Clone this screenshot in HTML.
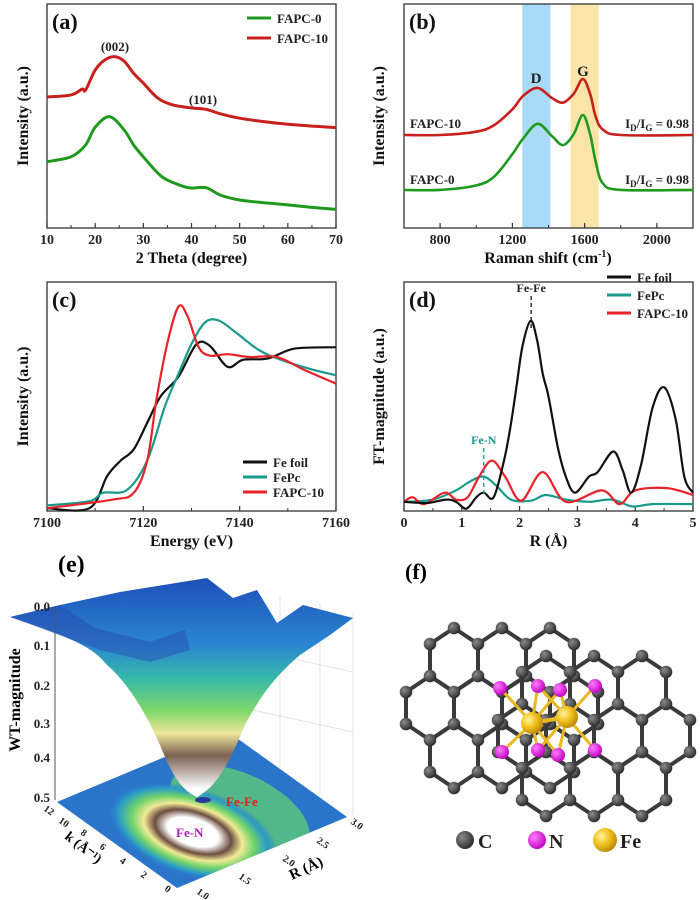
<!DOCTYPE html>
<html><head><meta charset="utf-8"><style>
html,body{margin:0;padding:0;background:#fff;}
svg{display:block;font-family:"Liberation Serif",serif;font-weight:bold;}
</style></head><body>
<svg id="fig" width="700" height="900" viewBox="0 0 700 900" xmlns="http://www.w3.org/2000/svg">
<defs>
<linearGradient id="surfG" x1="0" y1="578" x2="0" y2="800" gradientUnits="userSpaceOnUse">
<stop offset="0" stop-color="#1d4fb8"/><stop offset="0.3" stop-color="#2a86d2"/><stop offset="0.45" stop-color="#35b8a8"/><stop offset="0.6" stop-color="#7fd86a"/><stop offset="0.7" stop-color="#eee79a"/><stop offset="0.8" stop-color="#7c6152"/><stop offset="0.95" stop-color="#ffffff"/>
</linearGradient>
<radialGradient id="floorG" cx="0.5" cy="0.5" r="0.5">
<stop offset="0" stop-color="#fff"/><stop offset="0.3" stop-color="#fff"/><stop offset="0.45" stop-color="#6d4d40"/><stop offset="0.58" stop-color="#f2ea96"/><stop offset="0.72" stop-color="#72d46a"/><stop offset="0.88" stop-color="#2a9cc6"/><stop offset="1" stop-color="#2a7ccc" stop-opacity="0"/>
</radialGradient>
<radialGradient id="cAtom" cx="0.35" cy="0.35" r="0.7"><stop offset="0" stop-color="#8a8a8a"/><stop offset="1" stop-color="#2a2a2a"/></radialGradient>
<radialGradient id="nAtom" cx="0.35" cy="0.35" r="0.7"><stop offset="0" stop-color="#ff7dff"/><stop offset="1" stop-color="#c000c0"/></radialGradient>
<radialGradient id="feAtom" cx="0.35" cy="0.35" r="0.7"><stop offset="0" stop-color="#fff2a0"/><stop offset="0.5" stop-color="#f2c21c"/><stop offset="1" stop-color="#b8860b"/></radialGradient>
<clipPath id="floorClip"><polygon points="57,802 227,731 347,817 177,888"/></clipPath>
</defs>

<g>
<g stroke="#ddd" stroke-width="0.8">
<line x1="55" y1="606" x2="55" y2="800"/><line x1="353" y1="612" x2="353" y2="815"/>
<line x1="207" y1="578" x2="207" y2="730"/><line x1="280" y1="596" x2="280" y2="770"/><line x1="320" y1="604" x2="320" y2="795"/>
<line x1="207" y1="640" x2="353" y2="672"/><line x1="207" y1="700" x2="353" y2="732"/>
</g>
<polygon points="57,802 227,731 347,817 177,888" fill="#2466c4"/>
<g clip-path="url(#floorClip)">
<polygon points="57,802 227,731 347,817 177,888" fill="#2f7fcf" opacity="0.6"/>
<ellipse cx="240" cy="812" rx="75" ry="38" fill="#5cc978" opacity="0.8" transform="rotate(25 240 812)"/>
<ellipse cx="193" cy="832" rx="88" ry="44" fill="url(#floorG)" transform="rotate(18 193 832)"/>
<ellipse cx="203" cy="800" rx="8" ry="3" fill="#263a9a"/>
</g>
<path d="M10,617 L60,605 L120,592 L207,578 L233,598 L257,590 L277,623 L303,605 L353,618 L330,635 L300,655 C280,672 262,692 245,725 C232,755 220,785 197,797 C180,790 170,770 160,745 C145,710 125,680 107,665 C95,650 80,640 10,617 Z" fill="url(#surfG)"/>
<path d="M10,617 L60,605 L95,628 L150,642 L185,630 L190,650 L150,662 L100,650 Z" fill="#2548b0" opacity="0.45"/>
<line x1="55" y1="606" x2="55" y2="800" stroke="#555" stroke-width="1"/>
<g font-size="13" fill="#222" text-anchor="end">
<text x="50" y="611">0.0</text><text x="50" y="650">0.1</text><text x="50" y="690">0.2</text><text x="50" y="728">0.3</text><text x="50" y="762">0.4</text><text x="50" y="802">0.5</text>
</g>
<text x="20" y="700" font-size="16" text-anchor="middle" transform="rotate(-90 20 700)">WT-magnitude</text>
<g font-size="10" fill="#222">
<text transform="translate(43,810) rotate(35)">12</text><text transform="translate(58,822) rotate(35)">10</text><text transform="translate(80,834) rotate(35)">8</text><text transform="translate(99,848) rotate(35)">6</text><text transform="translate(119,862) rotate(35)">4</text><text transform="translate(140,876) rotate(35)">2</text><text transform="translate(164,890) rotate(35)">0</text>
</g>
<g font-size="10" fill="#222">
<text transform="translate(196,893) rotate(35)">1.0</text><text transform="translate(238,878) rotate(35)">1.5</text><text transform="translate(282,860) rotate(35)">2.0</text><text transform="translate(316,842) rotate(35)">2.5</text><text transform="translate(350,823) rotate(35)">3.0</text>
</g>
<text transform="translate(64,838) rotate(38)" font-size="14">k (Å⁻¹)</text>
<text transform="translate(292,880) rotate(-25)" font-size="15">R (Å)</text>
<text x="226" y="806" font-size="13" fill="#e0201a">Fe-Fe</text>
<text x="176" y="837" font-size="13" fill="#b020c0">Fe-N</text>
<text x="58" y="572" font-size="24">(e)</text>
</g>

<g id="panelF">
<text x="405" y="579" font-size="22">(f)</text>
</g>
</svg>
<script>
const xrdX10 = [10,15,17.3,18,20,22,24,26,28,30,33,36,40,43,46,50,55,60,65,70];
const xrdY10 = [58.5,59.4,62,61.5,70.5,75,76.5,74.5,69,64.7,58,55,53.6,53,51,49,47.5,46.3,45.5,44.8];
const xrdX0 = [10,15,18,20,23,26,28,30,33,35,38,40,43,46,50,55,60,65,70];
const xrdY0 = [29.6,31.8,37,45,49.7,43.8,37,31.8,24.5,21.4,18.8,17.8,18,14.7,12.5,11.3,10.3,9.2,8.3];
const ramanX = [600,800,1000,1100,1200,1260,1340,1420,1480,1540,1590,1630,1660,1700,1800,2200];
const ramanY10 = [41.5,41.5,43,46,53,59,62.5,58,56,60,66.5,60,50,44,41.5,41.5];
const ramanY0 = [17,17,19,23,33,40,46.5,41,37,42,50.5,42,30,20,17,17];
const xanesXFoil = [7100,7108.8,7112.5,7115.3,7118,7120.8,7123.6,7127.3,7131,7133.8,7137.5,7140.7,7145.9,7151.4,7160];
const xanesYFoil = [0.02,0.02,0.25,0.36,0.44,0.63,0.82,0.96,1.19,1.18,1.03,1.08,1.09,1.16,1.17];
const xanesXPc = [7100,7108.8,7111.6,7116.6,7120.8,7124.5,7127.3,7130.1,7132.9,7135.7,7139.4,7144,7148.6,7155.1,7160];
const xanesYPc = [0.04,0.07,0.13,0.15,0.36,0.75,0.98,1.2,1.35,1.36,1.27,1.15,1.08,1.01,0.97];
const xanesXF10 = [7100,7113.4,7118,7120.8,7122.7,7125,7127.3,7129.2,7131.5,7133.8,7137.5,7142.1,7147.7,7153.3,7160];
const xanesYF10 = [0.02,0.08,0.13,0.36,0.79,1.2,1.46,1.39,1.17,1.11,1.12,1.1,1.1,1.01,0.91];
const ftXFoil = [0,0.4,0.73,0.9,1.08,1.25,1.38,1.55,1.73,1.85,1.95,2.05,2.19,2.3,2.4,2.5,2.66,2.8,2.96,3.2,3.35,3.62,3.78,3.93,4.1,4.3,4.5,4.7,4.85,5.0];
const ftYFoil = [4,3.5,5,4,1,6,8,6,22,38,55,72,83,75,60,50,28,15,8,15,17,26,18,8,20,45,54,40,15,8];
const ftXPc = [0,0.5,0.9,1.15,1.38,1.6,1.85,2.2,2.45,2.8,3.2,3.6,3.95,4.3,5];
const ftYPc = [4,5,9,13,15,11,5,4.5,7,5,4,5,2,3,3];
const ftXF10 = [0,0.15,0.35,0.7,0.9,1.1,1.3,1.52,1.75,2.03,2.4,2.8,3.42,3.73,4.0,4.55,5.0];
const ftYF10 = [4,6,3,8,5,6,15,22,15,4.5,17,4,9,3,9,10,7];
const ticksA = [10,20,30,40,50,60,70];
const ticksB = [800,1200,1600,2000];
const ticksC = [7100,7120,7140,7160];
const ticksD = [0,1,2,3,4,5];

const NS = "http://www.w3.org/2000/svg";
const svg = document.getElementById('fig');
function mk(tag, attrs, parent){const e=document.createElementNS(NS,tag);for(const k in attrs)e.setAttribute(k,attrs[k]);(parent||svg).appendChild(e);return e;}
function lin(d0,d1,r0,r1){return v=>r0+(v-d0)*(r1-r0)/(d1-d0);}
function smooth(p){let d='M'+p[0][0].toFixed(1)+','+p[0][1].toFixed(1);for(let i=0;i<p.length-1;i++){const a=p[i-1]||p[i],b=p[i],c=p[i+1],e=p[i+2]||c;const c1=[b[0]+(c[0]-a[0])/6,b[1]+(c[1]-a[1])/6],c2=[c[0]-(e[0]-b[0])/6,c[1]-(e[1]-b[1])/6];d+=' C'+c1[0].toFixed(1)+','+c1[1].toFixed(1)+' '+c2[0].toFixed(1)+','+c2[1].toFixed(1)+' '+c[0].toFixed(1)+','+c[1].toFixed(1);}return d;}
function txt(x,y,s,size,attrs,parent){const t=mk('text',Object.assign({x:x,y:y,'font-size':size},attrs||{}),parent);t.textContent=s;return t;}

function panel(o){
  const g=mk('g',{});
  
  
  const sx=lin(o.xd[0],o.xd[1],o.L,o.R), sy=lin(o.yd[0],o.yd[1],o.B,o.T);
  if(o.bands) o.bands.forEach(b=>{const r=mk('rect',{x:sx(b[0]),y:o.T,width:sx(b[1])-sx(b[0]),height:o.B-o.T,fill:b[2]},g);
    
    });
  const fr=mk('rect',{x:o.L,y:o.T,width:o.R-o.L,height:o.B-o.T,fill:'none',stroke:'#333','stroke-width':1.3},g);
  
  
  o.ticks.forEach((t,i)=>{mk('line',{x1:sx(t),x2:sx(t),y1:o.B,y2:o.B-5,stroke:'#333','stroke-width':1.2},g);
    const lb=txt(sx(t),o.B+16,String(t),14,{'text-anchor':'middle',fill:'#222'},g);
    
    
    if(o.minor&&i<o.ticks.length-1){const m=(t+o.ticks[i+1])/2;mk('line',{x1:sx(m),x2:sx(m),y1:o.B,y2:o.B-3,stroke:'#333','stroke-width':1},g);}});
  if(o.minorExtra) o.minorExtra.forEach(m=>mk('line',{x1:sx(m),x2:sx(m),y1:o.B,y2:o.B-3,stroke:'#333','stroke-width':1},g));
  const xt=txt((o.L+o.R)/2,o.B+35,o.xTitle,16,{'text-anchor':'middle',fill:'#111'},g);
  
  
  const yt=txt(o.yTx,(o.T+o.B)/2,o.yTitle,16,{'text-anchor':'middle',fill:'#111',transform:'rotate(-90 '+o.yTx+' '+((o.T+o.B)/2)+')'},g);
  
  
  o.series.forEach(s=>{const pts=s.x.map((v,i)=>[sx(v),sy(s.y[i])]);
    const p=mk('path',{d:smooth(pts),fill:'none',stroke:s.c,'stroke-width':s.w||2.2,'stroke-linejoin':'round'},g);
    
    });
  const pl=txt(o.L+5,o.T+25,o.label,22,{fill:'#111'},g);
  
  
  return {g,sx,sy};
}
function legend(g,x,y0,dy,items){items.forEach((it,i)=>{const y=y0+i*dy;
  const gg=mk('g',{},g);
  
  
  mk('line',{x1:x,x2:x+24,y1:y,y2:y,stroke:it[1],'stroke-width':3},gg);
  txt(x+30,y+5,it[0],13,{fill:'#222'},gg);});}

const A=panel({name:'panel-a-xrd',L:47,R:336,T:4,B:228,xd:[10,70],yd:[0,100],ticks:ticksA,minor:true,xTitle:'2 Theta (degree)',yTitle:'Intensity (a.u.)',yTx:28,label:'(a)',
  series:[{x:xrdX10,y:xrdY10,c:'#c8201c',w:3,name:'xrd-fapc-10-line'},{x:xrdX0,y:xrdY0,c:'#1f9a1f',w:3,name:'xrd-fapc-0-line'}]});
legend(A.g,247,18,20,[['FAPC-0','#1f9a1f'],['FAPC-10','#c8201c']]);
txt(115,51,'(002)',13,{'text-anchor':'middle',fill:'#222'},A.g);
txt(203,104,'(101)',13,{'text-anchor':'middle',fill:'#222'},A.g);

const B=panel({name:'panel-b-raman',L:404,R:693,T:4,B:228,xd:[600,2200],yd:[0,100],ticks:ticksB,minor:true,minorExtra:[600],xTitle:'',yTitle:'Intensity (a.u.)',yTx:384,label:'(b)',
  bands:[[1255,1411,'#a9daf7','d-band-highlight'],[1522,1678,'#fbe4a8','g-band-highlight']],
  series:[{x:ramanX,y:ramanY10,c:'#c8201c',w:2.6,name:'raman-fapc-10-line'},{x:ramanX,y:ramanY0,c:'#1f9a1f',w:2.6,name:'raman-fapc-0-line'}]});
const bt=txt(548,263,'Raman shift (cm',16,{'text-anchor':'middle',fill:'#111'},B.g);
const sup=mk('tspan',{dy:-6,'font-size':10},bt);sup.textContent='-1';
const cl=mk('tspan',{dy:6},bt);cl.textContent=')';
txt(536,83,'D',15,{'text-anchor':'middle',fill:'#222'},B.g);
txt(583,76,'G',15,{'text-anchor':'middle',fill:'#222'},B.g);
txt(410,128,'FAPC-10',13,{fill:'#222'},B.g);
txt(410,184,'FAPC-0',13,{fill:'#222'},B.g);
[128,184].forEach(y=>{const t=txt(689,y,'I',13,{'text-anchor':'end',fill:'#222'},B.g);
  let s=mk('tspan',{dy:3,'font-size':9},t);s.textContent='D';
  s=mk('tspan',{dy:-3},t);s.textContent='/I';
  s=mk('tspan',{dy:3,'font-size':9},t);s.textContent='G';
  s=mk('tspan',{dy:-3},t);s.textContent=' = 0.98';});

const C=panel({name:'panel-c-xanes',L:47,R:336,T:282,B:511,xd:[7100,7160],yd:[0,1.636],ticks:ticksC,minor:true,xTitle:'Energy (eV)',yTitle:'Intensity (a.u.)',yTx:28,label:'(c)',
  series:[{x:xanesXFoil,y:xanesYFoil,c:'#111',name:'xanes-fe-foil-line'},{x:xanesXPc,y:xanesYPc,c:'#1a9a8a',name:'xanes-fepc-line'},{x:xanesXF10,y:xanesYF10,c:'#e8222a',name:'xanes-fapc-10-line'}]});
legend(C.g,243,462,15,[['Fe foil','#111'],['FePc','#1a9a8a'],['FAPC-10','#e8222a']]);

const D=panel({name:'panel-d-exafs',L:404,R:693,T:282,B:511,xd:[0,5],yd:[0,100],ticks:ticksD,minor:true,xTitle:'R (Å)',yTitle:'FT-magnitude (a.u.)',yTx:384,label:'(d)',
  series:[{x:ftXPc,y:ftYPc,c:'#1a9a8a',name:'ft-fepc-line'},{x:ftXF10,y:ftYF10,c:'#e8222a',name:'ft-fapc-10-line'},{x:ftXFoil,y:ftYFoil,c:'#111',name:'ft-fe-foil-line'}]});
legend(D.g,607,277,18,[['Fe foil','#111'],['FePc','#1a9a8a'],['FAPC-10','#e8222a']]);
mk('line',{x1:D.sx(2.2),x2:D.sx(2.2),y1:296,y2:330,stroke:'#111','stroke-dasharray':'4,3','stroke-width':1.3},D.g);
txt(D.sx(2.2),292,'Fe-Fe',12,{'text-anchor':'middle',fill:'#222'},D.g);
mk('line',{x1:D.sx(1.38),x2:D.sx(1.38),y1:448,y2:494,stroke:'#1a9a8a','stroke-dasharray':'4,3','stroke-width':1.3},D.g);
txt(D.sx(1.38),444,'Fe-N',12,{'text-anchor':'middle',fill:'#1a9a8a'},D.g);

// (f) structure
const F=document.getElementById('panelF');
const hx=24, sY=32, w=hx*2;
function hexes(cx0,cy0,rows){const out=[];rows.forEach((r,ri)=>{for(let i=0;i<r.n;i++)out.push([cx0+r.off+i*w,cy0+ri*1.5*sY]);});return out;}
function drawLayer(centers){const lg=mk('g',{},F);const atoms={};
  centers.forEach(c=>{const v=[[c[0],c[1]-sY],[c[0]+hx,c[1]-sY/2],[c[0]+hx,c[1]+sY/2],[c[0],c[1]+sY],[c[0]-hx,c[1]+sY/2],[c[0]-hx,c[1]-sY/2]];
    for(let k=0;k<6;k++){const p=v[k],q=v[(k+1)%6];mk('line',{x1:p[0],y1:p[1],x2:q[0],y2:q[1],stroke:'#3a3a3a','stroke-width':4},lg);atoms[p[0].toFixed(0)+','+p[1].toFixed(0)]=p;}});
  Object.values(atoms).forEach(p=>mk('circle',{cx:p[0],cy:p[1],r:6.3,fill:'url(#cAtom)'},lg));}
drawLayer(hexes(454,660,[{off:0,n:3},{off:-w/2,n:4},{off:0,n:3}]));
drawLayer(hexes(546,688,[{off:0,n:3},{off:-w/2,n:4},{off:0,n:3}]));
const nPos=[[500,688],[538,686],[560,690],[595,686],[502,752],[538,750],[558,755],[595,750]];
[[532,723],[567,717]].forEach(fe=>nPos.forEach(p=>{if(Math.abs(p[0]-fe[0])<40)mk('line',{x1:fe[0],y1:fe[1],x2:p[0],y2:p[1],stroke:'#e8b820','stroke-width':3},F);}));
nPos.forEach(p=>mk('circle',{cx:p[0],cy:p[1],r:7,fill:'url(#nAtom)'},F));
mk('line',{x1:532,y1:723,x2:567,y2:717,stroke:'#e8b820','stroke-width':4},F);
[[532,723],[567,717]].forEach(p=>mk('circle',{cx:p[0],cy:p[1],r:11,fill:'url(#feAtom)'},F));
const lgF=mk('g',{},F);


mk('circle',{cx:465,cy:840,r:9,fill:'url(#cAtom)'},lgF);txt(478,848,'C',20,{fill:'#222'},lgF);
mk('circle',{cx:537,cy:840,r:9,fill:'url(#nAtom)'},lgF);txt(549,848,'N',20,{fill:'#222'},lgF);
mk('circle',{cx:605,cy:840,r:12,fill:'url(#feAtom)'},lgF);txt(620,848,'Fe',20,{fill:'#222'},lgF);
</script>
</body></html>
